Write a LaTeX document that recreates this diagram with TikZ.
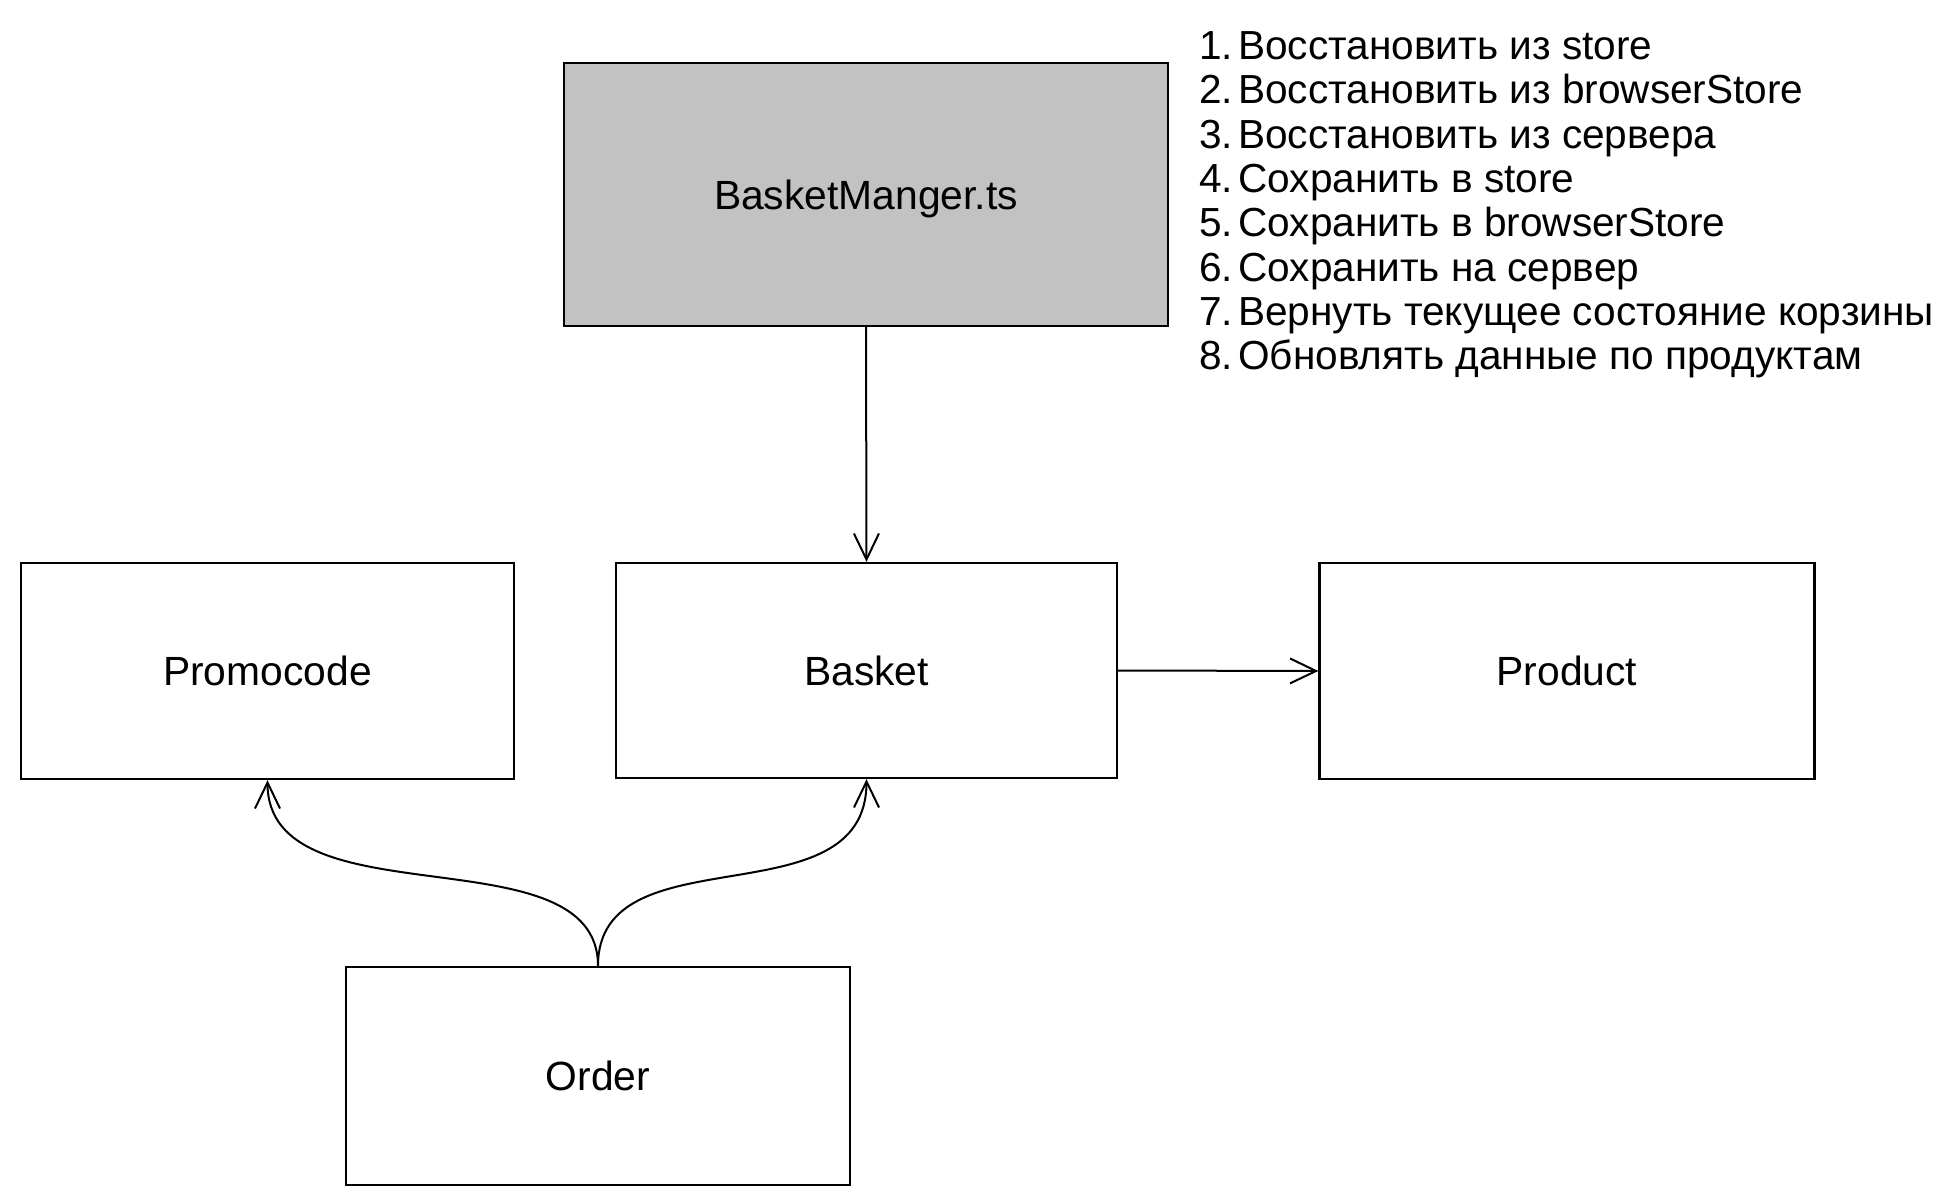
\documentclass[tikz,border=0pt]{standalone}
\usepackage{fontspec}
\setmainfont{Liberation Sans}
\usetikzlibrary{arrows.meta}
\definecolor{boxgray}{RGB}{195,194,195}
\newcommand{\numgap}{\hspace{2.5pt}}
\begin{document}
\begin{tikzpicture}[x=0.5pt,y=-0.5pt,
  box/.style={draw=black,line width=1.2pt,inner sep=0pt,font=\fontsize{20.4pt}{24pt}\selectfont,text height=14.6pt,text depth=0pt},
  arr/.style={draw=black,line width=1pt,-{Straight Barb[length=13pt,width=12.5pt,line width=1pt]}},
  item/.style={anchor=base west,inner sep=0pt,font=\fontsize{20.3pt}{24pt}\selectfont}]
\useasboundingbox (0,0) rectangle (1956,1204);
\node[box,fill=boxgray,minimum width=302pt,minimum height=131.5pt] (bm) at (866,194.5) {BasketManger.ts};
\node[box,minimum width=246.5pt,minimum height=108pt] (promo) at (267.5,671) {Promocode};
\node[box,minimum width=250.5pt,minimum height=107.5pt] (basket) at (866.5,670.5) {Basket};
\node[box,minimum width=247.5pt,minimum height=108pt] (product) at (1567,671) {Product};
\node[box,minimum width=252pt,minimum height=109pt] (order) at (598,1076) {Order};
\draw[arr] (bm.south) -- (basket.north);
\draw[arr] (basket.east) -- (product.west);
\draw[arr] (order.north) .. controls +(0,-136) and +(0,144) .. (promo.south);
\draw[arr] (order.north) .. controls +(0,-136) and +(0,144) .. (basket.south);
\node[item] (l1) at (1199,59.5) {1.\numgap Восстановить из store};
\node[item] (l2) at (1199,103.8) {2.\numgap Восстановить из browserStore};
\node[item] (l3) at (1199,148.1) {3.\numgap Восстановить из сервера};
\node[item] (l4) at (1199,192.4) {4.\numgap Сохранить в store};
\node[item] (l5) at (1199,236.7) {5.\numgap Сохранить в browserStore};
\node[item] (l6) at (1199,281.0) {6.\numgap Сохранить на сервер};
\node[item] (l7) at (1199,325.3) {7.\numgap Вернуть текущее состояние корзины};
\node[item] (l8) at (1199,369.6) {8.\numgap Обновлять данные по продуктам};
\end{tikzpicture}
\end{document}
